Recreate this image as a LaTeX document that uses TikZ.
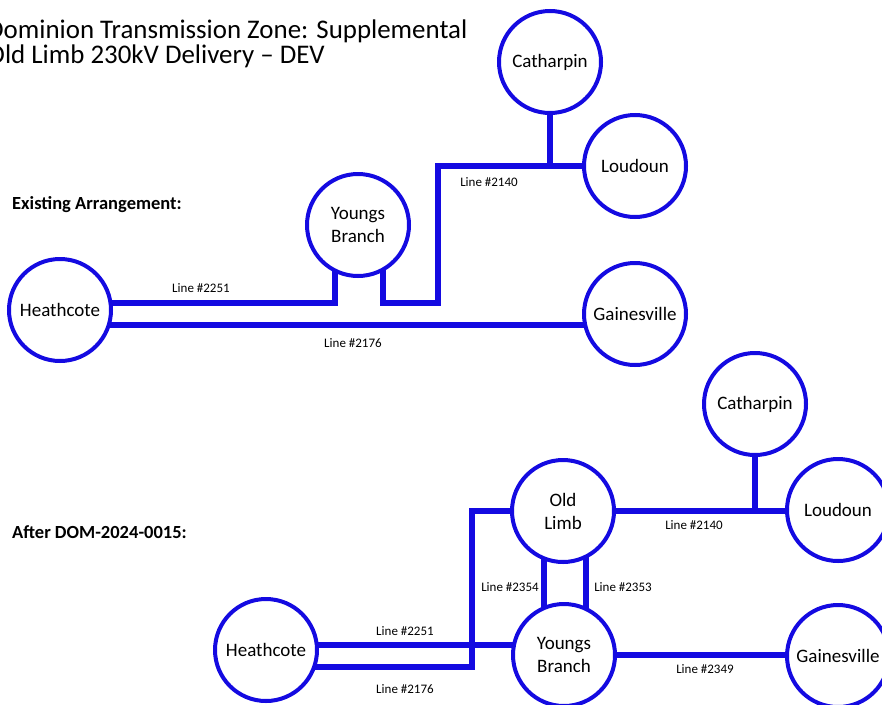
\documentclass[tikz,border=0pt]{standalone}
\usepackage{fontspec}
\setmainfont{Carlito}
\usetikzlibrary{backgrounds}
\definecolor{lineblue}{RGB}{20,10,225}

\begin{document}
\begin{tikzpicture}[x=1pt, y=-1pt,
  station/.style={circle, draw=lineblue, line width=4pt, fill=white, minimum size=102pt, inner sep=0pt, align=center, font=\fontsize{19}{23}\selectfont},
  feeder/.style={draw=lineblue, line width=5.5pt},
  lbl/.style={font=\fontsize{13}{15}\selectfont},
  heading/.style={anchor=west, font=\fontsize{18.5}{21}\selectfont\bfseries}]
  \useasboundingbox (0,0) rectangle (882,704);

  % title
  \node[anchor=base west, inner sep=0pt, font=\fontsize{26.9}{28}\selectfont] (title1) at (-13,38) {Dominion Transmission Zone: Supplemental};
  \node[anchor=base west, inner sep=0pt, font=\fontsize{26.9}{28}\selectfont] (title2) at (-13,63) {Old Limb 230kV Delivery – DEV};

  % existing arrangement
  \node[heading, inner sep=0pt] (existing) at (12,205) {Existing Arrangement:};
  \node[station] (heath1) at (60,310) {Heathcote};
  \node[station] (youngs1) at (358,225) {Youngs\\Branch};
  \node[station] (cath1) at (550,62) {Catharpin};
  \node[station] (loud1) at (635,166) {Loudoun};
  \node[station] (gaines1) at (635,314) {Gainesville};
  \coordinate (bend1) at (438,303);

  \begin{scope}[on background layer]
    \draw[feeder] ([yshift=7pt]heath1.center) -| ([xshift=-23pt]youngs1.center);
    \draw[feeder] ([xshift=25pt]youngs1.center) |- (bend1) |- (loud1);
    \draw[feeder] (cath1) -- (cath1 |- loud1);
    \draw[feeder] ([yshift=-15pt]heath1.center) -- ([yshift=-15pt]heath1.center -| gaines1);
  \end{scope}

  \node[lbl] (l2251a) at (201,288) {Line \#2251};
  \node[lbl] (l2176a) at (353,343) {Line \#2176};
  \node[lbl] (l2140a) at (489,182) {Line \#2140};

  % after DOM-2024-0015
  \node[heading, inner sep=0pt] (after) at (12,532) {After DOM-2024-0015:};
  \node[station] (heath2) at (266,650) {Heathcote};
  \node[station] (old2) at (563,511) {Old\\Limb};
  \node[station] (youngs2) at (564,655) {Youngs\\Branch};
  \node[station] (cath2) at (755,404) {Catharpin};
  \node[station] (loud2) at (838,510) {Loudoun};
  \node[station] (gaines2) at (838,656) {Gainesville};

  \begin{scope}[on background layer]
    \draw[feeder] ([yshift=5pt]heath2.center) -- ([yshift=5pt]heath2.center -| youngs2);
    \draw[feeder] ([yshift=-17pt]heath2.center) -| ([xshift=-91pt]old2.center) -- (old2);
    \draw[feeder] ([xshift=-19pt]old2.center) -- ([xshift=-19pt]old2.center |- youngs2);
    \draw[feeder] ([xshift=23pt]old2.center) -- ([xshift=23pt]old2.center |- youngs2);
    \draw[feeder] (old2) -- (old2 -| loud2);
    \draw[feeder] (cath2) -- (cath2 |- old2);
    \draw[feeder] (youngs2) -- (youngs2 -| gaines2);
  \end{scope}

  \node[lbl] (l2251b) at (405,631) {Line \#2251};
  \node[lbl] (l2176b) at (405,689) {Line \#2176};
  \node[lbl] (l2354) at (510,587) {Line \#2354};
  \node[lbl] (l2353) at (623,587) {Line \#2353};
  \node[lbl] (l2140b) at (694,525) {Line \#2140};
  \node[lbl] (l2349) at (705,669) {Line \#2349};
\end{tikzpicture}
\end{document}
